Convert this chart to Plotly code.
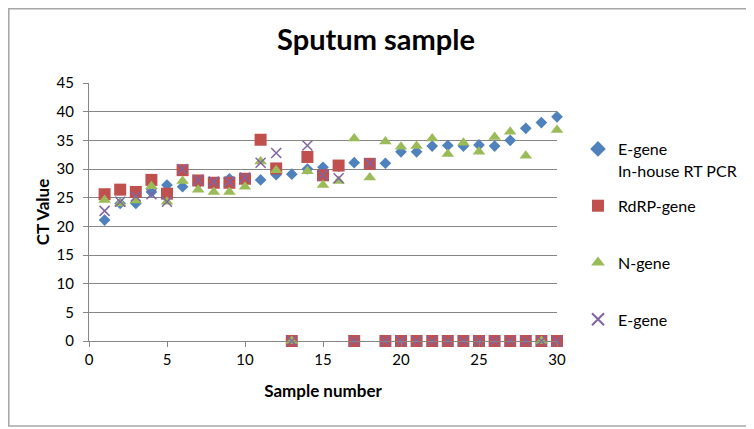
import plotly.graph_objects as go

samples = list(range(1, 31))

e_gene_inhouse = [21.1, 24.0, 24.0, 26.0, 27.2, 26.9, 27.5, 27.5, 28.3, 28.0,
                  28.1, 29.0, 29.1, 30.0, 30.3, 30.5, 31.1, 31.0, 31.0, 33.0,
                  33.0, 34.0, 34.1, 34.0, 34.2, 34.0, 35.0, 37.1, 38.1, 39.1]

rdrp_gene = [25.6, 26.4, 26.0, 28.1, 25.7, 29.8, 28.0, 27.6, 27.6, 28.3,
             35.1, 30.1, 0, 32.1, 28.9, 30.6, 0, 30.9, 0, 0,
             0, 0, 0, 0, 0, 0, 0, 0, 0, 0]

n_gene = [24.6, 24.0, 24.5, 27.0, 24.3, 27.9, 26.4, 26.0, 26.0, 26.9,
          31.3, 29.8, 0, 29.6, 27.2, 27.9, 35.3, 28.5, 34.8, 33.9,
          34.0, 35.3, 32.6, 34.6, 33.0, 35.6, 36.5, 32.3, 0, 36.8]

e_gene = [22.7, 24.3, 25.2, 25.6, 24.3, 30.0, 28.1, 27.8, 27.8, 28.5,
          31.1, 32.8, 0, 34.1, 28.9, 28.4, 0, 31.0, 0, 0,
          0, 0, 0, 0, 0, 0, 0, 0, 0, 0]

x_ticks = [0, 5, 10, 15, 20, 25, 30]
y_ticks = [0, 5, 10, 15, 20, 25, 30, 35, 40, 45]

FONT = "Lato"
# the page body has an 8px margin, so the figure is sized/offset to compensate
W, H = 746, 421
ML, MR, MT, MB = 81, 197, 75, 88
PW, PH = W - ML - MR, H - MT - MB


def px(fx):
    return (fx - ML) / PW


def py(fy):
    return 1 - (fy - MT) / PH


fig = go.Figure()

fig.add_trace(go.Scatter(
    x=samples, y=e_gene_inhouse, mode="markers", name="E-gene",
    legendgroup="a",
    marker=dict(symbol="diamond", size=9, color="#4F81BD"),
    cliponaxis=False))
fig.add_trace(go.Scatter(
    x=samples, y=rdrp_gene, mode="markers", name="RdRP-gene",
    legendgroup="b",
    marker=dict(symbol="square", size=12, color="#C0504D"),
    cliponaxis=False))
fig.add_trace(go.Scatter(
    x=samples, y=n_gene, mode="markers", name="N-gene",
    legendgroup="c",
    marker=dict(symbol="triangle-up", size=11, color="#9BBB59"),
    cliponaxis=False))
fig.add_trace(go.Scatter(
    x=samples, y=e_gene, mode="markers", name="E-gene",
    legendgroup="d",
    marker=dict(symbol="x-thin", size=10, color="#8064A2",
                line=dict(color="#8064A2", width=1.5)),
    cliponaxis=False))

fig.update_layout(
    width=W, height=H,
    margin=dict(l=ML, r=MR, t=MT, b=MB),
    paper_bgcolor="white", plot_bgcolor="white",
    font=dict(family=FONT, size=15, color="black"),
    title=dict(text="<b>Sputum sample</b>", x=368 / W, xref="container",
               xanchor="center", y=1 - 32 / H, yref="container",
               yanchor="middle",
               font=dict(family=FONT, size=29, color="black")),
    showlegend=True,
    legend=dict(x=px(570), xanchor="left",
                y=py(124), yanchor="top",
                font=dict(family=FONT, size=16, color="black"),
                tracegroupgap=33, traceorder="grouped",
                itemsizing="constant", valign="middle",
                bgcolor="rgba(0,0,0,0)"),
    xaxis=dict(range=[0, 30], tickvals=x_ticks, ticks="outside", ticklen=5,
               tickcolor="#868686", showline=True, linecolor="#868686",
               linewidth=1, showgrid=False, zeroline=False,
               tickfont=dict(family=FONT, size=15, color="black"),
               title=dict(text="<b>Sample number</b>", standoff=18,
                          font=dict(family=FONT, size=17, color="black"))),
    yaxis=dict(range=[0, 45], tickvals=y_ticks, ticks="outside", ticklen=5,
               tickcolor="#868686", showline=True, linecolor="#868686",
               linewidth=1, showgrid=True, gridcolor="#868686", gridwidth=1,
               zeroline=False, ticklabelstandoff=6,
               tickfont=dict(family=FONT, size=15, color="black"),
               title=dict(text="<b>CT Value</b>", standoff=2,
                          font=dict(family=FONT, size=17, color="black"))),
)

# second line of the first legend entry
fig.add_annotation(text="In-house RT PCR", xref="paper", yref="paper",
                   x=px(608), xanchor="left",
                   y=py(162), yanchor="middle",
                   showarrow=False,
                   font=dict(family=FONT, size=16, color="black"))

# chart border
fig.add_shape(type="rect", xref="paper", yref="paper",
              x0=px(0.8), x1=px(743), y0=py(418), y1=py(0.8),
              line=dict(color="#A6A6A6", width=1.5),
              fillcolor="rgba(0,0,0,0)", layer="below")

fig.write_html("out.html")
